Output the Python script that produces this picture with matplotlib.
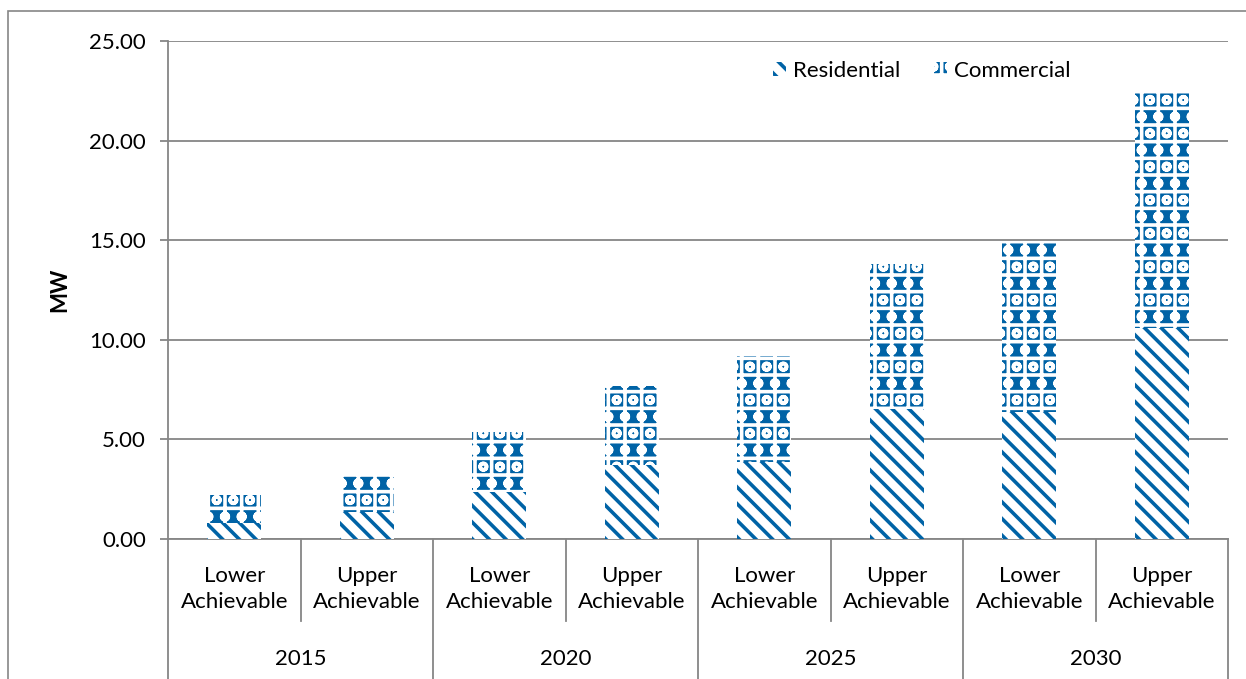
import matplotlib.pyplot as plt
from matplotlib.patches import Rectangle, Patch
from matplotlib.transforms import blended_transform_factory

# MW by scenario and year
years = ["2015", "2020", "2025", "2030"]
scenarios = ["Lower\nAchievable", "Upper\nAchievable"]
residential = [0.80, 1.35, 2.36, 3.70, 3.88, 6.51, 6.39, 10.58]
commercial = [1.42, 1.85, 3.03, 4.00, 5.31, 7.29, 8.50, 11.84]

blue = "#0063A6"
grey = "#868686"
fs = 16

plt.rcParams["font.family"] = ["Lato", "DejaVu Sans"]
plt.rcParams["hatch.linewidth"] = 2.6

fig = plt.figure(figsize=(12.46, 6.79), dpi=100)
ax = fig.add_axes([168 / 1246, 140 / 679, 1060 / 1246, 498 / 679])

# outer chart border
fig.patches.append(Rectangle((8 / 1246, -0.02), 1.1, 1 - 11 / 679 + 0.02,
                             transform=fig.transFigure, fill=False,
                             edgecolor=grey, linewidth=1.2))

x = list(range(len(residential)))
w = 0.41
res_style = dict(facecolor="white", edgecolor=blue, linewidth=0, hatch="\\\\")
com_style = dict(facecolor=blue, edgecolor="white", linewidth=0, hatch="+o")
ax.bar(x, residential, width=w, zorder=3, **res_style)
ax.bar(x, commercial, width=w, bottom=residential, zorder=3, **com_style)

ax.set_ylim(0, 25)
ax.set_xlim(-0.5, len(x) - 0.5)
ax.set_yticks([0, 5, 10, 15, 20, 25])
ax.set_yticklabels([f"{v:.2f}" for v in [0, 5, 10, 15, 20, 25]])
ax.yaxis.grid(True, color=grey, linewidth=1.3, zorder=0)
ax.set_axisbelow(True)
ax.tick_params(axis="y", length=5.8, width=1.3, color=grey, labelsize=fs, pad=10)
ax.set_xticks([])
for s in ["top", "right"]:
    ax.spines[s].set_visible(False)
for s in ["left", "bottom"]:
    ax.spines[s].set_color(grey)
    ax.spines[s].set_linewidth(1.3)
ax.set_ylabel("MW", fontsize=fs, fontweight="bold", labelpad=14)

# two-level category labels
tr = blended_transform_factory(ax.transData, ax.transAxes)
for i in x:
    ax.text(i, -0.1, scenarios[i % 2], transform=tr, ha="center", va="center",
            fontsize=fs, linespacing=1.35)
for g, yr in enumerate(years):
    ax.text(2 * g + 0.5, -0.241, yr, transform=tr, ha="center", va="center",
            fontsize=fs)
for k in range(len(years) + 1):
    ax.plot([2 * k - 0.5] * 2, [0, -0.29], transform=tr, color=grey,
            linewidth=1.3, clip_on=False)
for k in range(len(years)):
    ax.plot([2 * k + 0.5] * 2, [0, -0.165], transform=tr, color=grey,
            linewidth=1.3, clip_on=False)

ax.legend([Patch(**res_style), Patch(**com_style)], ["Residential", "Commercial"],
          loc="upper right", bbox_to_anchor=(0.87, 1.0), ncol=2, frameon=False,
          fontsize=fs, handlelength=0.6, handleheight=0.6, handletextpad=0.3,
          columnspacing=1.5)

fig.savefig("out.png", dpi=100)
